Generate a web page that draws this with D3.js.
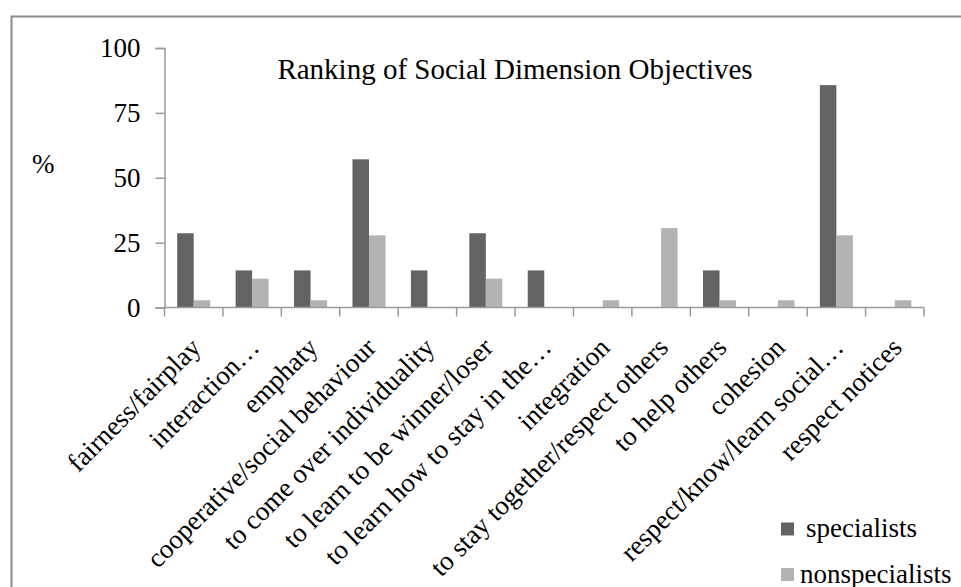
<!DOCTYPE html>
<html>
  <head>
    <meta charset="utf-8">
    <title>Ranking of Social Dimension Objectives</title>
    <script src="https://d3js.org/d3.v7.min.js"></script>
    <style>
      body { margin: 0; background: #fff; }
      text { font-family: "Liberation Serif", "Times New Roman", serif; fill: #000; }
    </style>
  </head>
  <body>
    <div id="vis"></div>
    <script>
        const width = 961;
        const height = 587;

        // data
        const categories = ["fairness/fairplay", "interaction\u2026", "emphaty", "cooperative/social behaviour",
          "to come over individuality", "to learn to be winner/loser", "to learn how to stay in the\u2026",
          "integration", "to stay together/respect others", "to help others", "cohesion",
          "respect/know/learn social\u2026", "respect notices"];
        const specialists = [28.6, 14.3, 14.3, 57.1, 14.3, 28.6, 14.3, 0, 0, 14.3, 0, 85.7, 0];
        const nonspecialists = [2.8, 11.1, 2.8, 27.8, 0, 11.1, 0, 2.8, 30.6, 2.8, 2.8, 27.8, 2.8];
        const seriesNames = ["specialists", "nonspecialists"];
        const yTicks = [0, 25, 50, 75, 100];

        const colors = {specialists: "#636363", nonspecialists: "#b3b3b3"};
        const axisColor = "#9a9a9a";

        const vis = d3.select("#vis").append("svg").attr("width", width).attr("height", height);

        // outer frame (runs off the right and bottom edge)
        vis.append("rect").attr("x", 11.5).attr("y", 16.5).attr("width", 1000).attr("height", 700)
          .attr("fill", "none").attr("stroke", "#8a8a8a").attr("stroke-width", 2);

        const x0 = d3.scaleBand().domain(categories).range([164.5, 924]).padding(0);
        const x1 = d3.scaleBand().domain(seriesNames).range([0, x0.bandwidth()]).paddingOuter(0.77).paddingInner(0);
        const y = d3.scaleLinear().domain([0, 100]).range([307.5, 48]);

        const rows = categories.map((c, i) => ({cat: c, specialists: specialists[i], nonspecialists: nonspecialists[i]}));

        // y axis
        const yAxis = vis.append("g").attr("transform", "translate(164.5,0)")
          .call(d3.axisLeft(y).tickValues(yTicks).tickSize(9).tickPadding(15));
        yAxis.attr("font-family", null);
        yAxis.select(".domain").attr("stroke", axisColor).attr("stroke-width", 1.5);
        yAxis.selectAll(".tick line").attr("stroke", axisColor).attr("stroke-width", 1.5);
        yAxis.selectAll(".tick text").attr("font-size", 27).attr("fill", "#000");

        // bars
        const groups = vis.append("g").selectAll("g").data(rows).join("g")
          .attr("transform", d => "translate(" + x0(d.cat) + ",0)");
        groups.selectAll("rect").data(d => seriesNames.map(s => ({s: s, v: d[s]}))).join("rect")
          .attr("x", d => x1(d.s))
          .attr("width", x1.bandwidth())
          .attr("y", d => y(d.v))
          .attr("height", d => y(0) - y(d.v))
          .attr("fill", d => colors[d.s]);

        // x axis with ticks at category boundaries
        const xg = vis.append("g");
        xg.append("line").attr("x1", 164.5).attr("x2", 924).attr("y1", y(0)).attr("y2", y(0))
          .attr("stroke", axisColor).attr("stroke-width", 1.5);
        const bounds = categories.map(c => x0(c)).concat([x0.range()[1]]);
        xg.selectAll("line.tk").data(bounds).join("line").attr("class", "tk")
          .attr("x1", d => d).attr("x2", d => d).attr("y1", y(0)).attr("y2", y(0) + 9)
          .attr("stroke", axisColor).attr("stroke-width", 1.5);

        xg.selectAll("text").data(categories).join("text")
          .attr("transform", d => "translate(" + (x0(d) + x0.bandwidth() / 2 + 2) + "," + (y(0) + 35) + ") rotate(-45)")
          .attr("text-anchor", "end")
          .attr("dy", "0.35em")
          .attr("font-size", 27)
          .text(d => d);

        // title and unit
        vis.append("text").attr("x", 515).attr("y", 79).attr("text-anchor", "middle")
          .attr("font-size", 29).text("Ranking of Social Dimension Objectives");
        vis.append("text").attr("x", 32).attr("y", 173).attr("font-size", 27).text("%");

        // legend
        const legend = vis.append("g");
        const legY = [522.5, 568];
        const legTx = [806, 800];
        seriesNames.forEach((s, i) => {
          legend.append("rect").attr("x", 781).attr("y", legY[i]).attr("width", 13).attr("height", 13)
            .attr("fill", colors[s]);
          legend.append("text").attr("x", legTx[i]).attr("y", legY[i] + 14.5).attr("font-size", 27).text(s);
        });
    </script>
  </body>
</html>
